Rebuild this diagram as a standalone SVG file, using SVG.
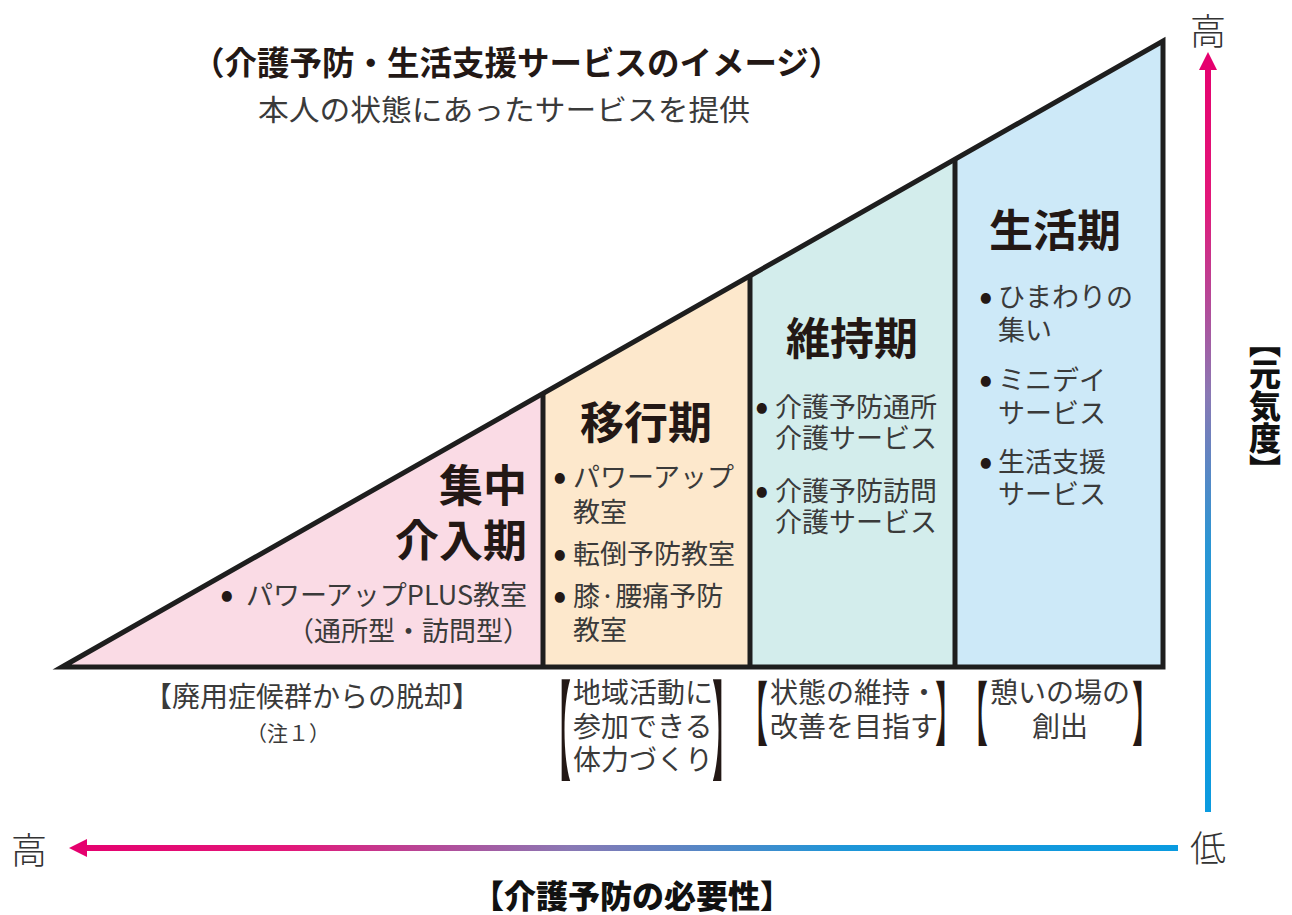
<svg xmlns="http://www.w3.org/2000/svg" width="1292" height="915" viewBox="0 0 1292 915">
<defs>
<style>
text{font-family:"Noto Sans CJK JP","Noto Sans CJK SC",sans-serif;}
.h{font-size:44px;font-weight:700;fill:#231815;}
.it{font-size:27px;fill:#3a3a3a;}
.bl{font-size:40px;fill:#231815;}
.br{font-size:28px;fill:#3a3a3a;}
.bk{font-size:28px;fill:#231815;}
.ax{font-size:36px;font-weight:300;fill:#333;}
.sec{stroke:none;}
.edge{fill:none;stroke:#1e1e1e;stroke-width:5;stroke-linejoin:miter;}
</style>
<linearGradient id="gv" gradientUnits="userSpaceOnUse" x1="0" y1="812" x2="0" y2="52">
<stop offset="0" stop-color="#0a9be0"/>
<stop offset="0.35" stop-color="#2a96d4"/>
<stop offset="0.55" stop-color="#8a78b4"/>
<stop offset="0.8" stop-color="#e2187a"/>
<stop offset="1" stop-color="#e5006e"/>
</linearGradient>
<linearGradient id="gh" gradientUnits="userSpaceOnUse" x1="1178" y1="0" x2="69" y2="0">
<stop offset="0" stop-color="#0a9be0"/>
<stop offset="0.3" stop-color="#1e96d8"/>
<stop offset="0.55" stop-color="#8a78b4"/>
<stop offset="0.8" stop-color="#e2187a"/>
<stop offset="1" stop-color="#e5006e"/>
</linearGradient>
</defs>
<rect width="1292" height="915" fill="#ffffff"/>

<g id="title">
<text x="192" y="75" font-size="32.5" font-weight="700" fill="#231815">（介護予防・生活支援サービスのイメージ）</text>
<text x="258" y="121" font-size="29" fill="#3a3a3a" textLength="492" lengthAdjust="spacingAndGlyphs">本人の状態にあったサービスを提供</text>
</g>

<g id="node-shuchu">
<polygon class="sec" fill="#fadbe5" points="62,667 543,393.5 543,667"/>
<text class="h" x="527" y="502" text-anchor="end">集中</text>
<text class="h" x="527" y="557" text-anchor="end">介入期</text>
<text class="bl" x="220" y="608">•</text>
<text class="it" x="527" y="605" text-anchor="end">パワーアップPLUS教室</text>
<text class="it" x="530" y="641" text-anchor="end">（通所型・訪問型）</text>
</g>

<g id="node-ikou">
<polygon class="sec" fill="#fde8cc" points="543,393.5 750,275.8 750,667 543,667"/>
<text class="h" x="646" y="439" text-anchor="middle">移行期</text>
<text class="bl" x="553" y="490">•</text><text class="it" x="573" y="487">パワーアップ</text>
<text class="it" x="573" y="522">教室</text>
<text class="bl" x="553" y="567">•</text><text class="it" x="573" y="564">転倒予防教室</text>
<text class="bl" x="553" y="609">•</text><text class="it" x="573" y="606">膝·腰痛予防</text>
<text class="it" x="573" y="640">教室</text>
</g>

<g id="node-iji">
<polygon class="sec" fill="#d3edec" points="750,275.8 955,159.2 955,667 750,667"/>
<text class="h" x="852" y="355" text-anchor="middle">維持期</text>
<text class="bl" x="755" y="420">•</text><text class="it" x="775" y="417">介護予防通所</text>
<text class="it" x="775" y="448">介護サービス</text>
<text class="bl" x="755" y="504">•</text><text class="it" x="775" y="501">介護予防訪問</text>
<text class="it" x="775" y="532">介護サービス</text>
</g>

<g id="node-seikatsu">
<polygon class="sec" fill="#cde9f8" points="955,159.2 1163,41 1163,667 955,667"/>
<text class="h" x="1055" y="247" text-anchor="middle">生活期</text>
<text class="bl" x="979" y="310">•</text><text class="it" x="998" y="307">ひまわりの</text>
<text class="it" x="998" y="340">集い</text>
<text class="bl" x="979" y="393">•</text><text class="it" x="998" y="390">ミニデイ</text>
<text class="it" x="998" y="423">サービス</text>
<text class="bl" x="979" y="475">•</text><text class="it" x="998" y="472">生活支援</text>
<text class="it" x="998" y="504">サービス</text>
</g>

<g id="outline">
<polyline class="edge" points="543,393.5 543,667"/>
<polyline class="edge" points="750,275.8 750,667"/>
<polyline class="edge" points="955,159.2 955,667"/>
<polygon class="edge" points="62,667 1163,41 1163,667"/>
</g>

<g id="goal-shuchu">
<text class="br" x="312" y="707" text-anchor="middle">【廃用症候群からの脱却】</text>
<text x="288" y="741" font-size="21" fill="#3a3a3a" text-anchor="middle">（注１）</text>
</g>

<g id="goal-ikou">
<text class="bk" transform="translate(543,772) scale(1,3.9)">【</text>
<text class="br" x="573" y="703">地域活動に</text>
<text class="br" x="573" y="737">参加できる</text>
<text class="br" x="573" y="770">体力づくり</text>
<text class="bk" transform="translate(712,772) scale(1,3.9)">】</text>
</g>

<g id="goal-iji">
<text class="bk" transform="translate(740,740) scale(1,2.5)">【</text>
<text class="br" x="770" y="703">状態の維持・</text>
<text class="br" x="770" y="737">改善を目指す</text>
<text class="bk" transform="translate(935,740) scale(1,2.5)">】</text>
</g>

<g id="goal-seikatsu">
<text class="bk" transform="translate(960,740) scale(1,2.5)">【</text>
<text class="br" x="1060" y="703" text-anchor="middle">憩いの場の</text>
<text class="br" x="1060" y="737" text-anchor="middle">創出</text>
<text class="bk" transform="translate(1132,740) scale(1,2.5)">】</text>
</g>

<g id="connectors">
<line x1="1208" y1="812" x2="1208" y2="64" stroke="url(#gv)" stroke-width="6"/>
<polygon points="1208,52 1199,70 1217,70" fill="#e5006e"/>
<line x1="1178" y1="848" x2="81" y2="848" stroke="url(#gh)" stroke-width="6"/>
<polygon points="69,848 87,839 87,857" fill="#e5006e"/>
</g>

<g id="axis-labels">
<text class="ax" x="1208" y="45" text-anchor="middle">高</text>
<text class="ax" x="29" y="864" text-anchor="middle">高</text>
<text class="ax" x="1208" y="862" text-anchor="middle">低</text>
<text x="1265" y="326" font-size="32" font-weight="900" fill="#111" style="writing-mode:vertical-rl">【元気度】</text>
<text x="632" y="908" font-size="32" font-weight="900" fill="#111" text-anchor="middle">【介護予防の必要性】</text>
</g>
</svg>
